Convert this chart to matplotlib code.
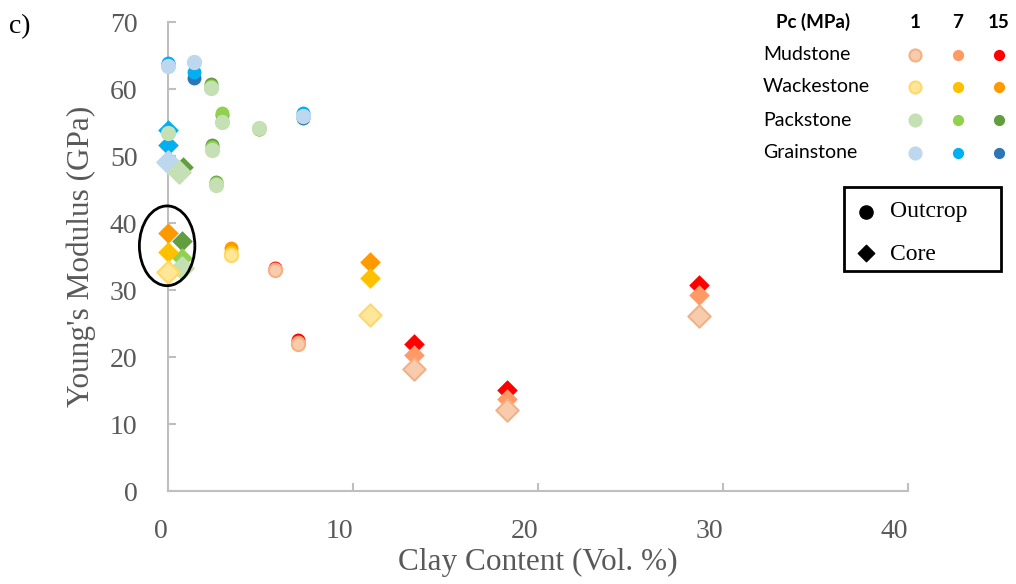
import numpy as np
import matplotlib
matplotlib.use("Agg")
import matplotlib.pyplot as plt
from matplotlib.patches import Ellipse, Rectangle

nan = np.nan

# Pc levels (MPa) and lithology colours, one per Pc level
pc_levels = ["1", "7", "15"]
lithologies = ["Mudstone", "Wackestone", "Packstone", "Grainstone"]
colors = {
    "Mudstone": ["#F8CBAD", "#FF9966", "#FF0000"],
    "Wackestone": ["#FFE699", "#FFC000", "#FF9900"],
    "Packstone": ["#C5E0B4", "#92D050", "#629E40"],
    "Grainstone": ["#BDD7EE", "#00B0F0", "#2E75B6"],
}
edges_pc1 = {
    "Mudstone": "#F4B183",
    "Wackestone": "#FFD966",
    "Packstone": "#C5E0B4",
    "Grainstone": "#BDD7EE",
}

# outcrop samples: clay content (vol. %) and Young's modulus (GPa) at Pc 1 / 7 / 15
mud_out_clay = [5.8, 7.0]
mud_out_e1 = [33.0, 22.0]
mud_out_e7 = [33.2, 22.3]
mud_out_e15 = [33.3, 22.6]

wack_out_clay = [3.4]
wack_out_e1 = [35.2]
wack_out_e7 = [35.7]
wack_out_e15 = [36.2]

pack_out_clay = [2.3, 2.9, 4.9, 2.4, 2.6, 0.0]
pack_out_e1 = [60.2, 55.1, 54.2, 50.9, 45.7, 53.4]
pack_out_e7 = [60.5, 56.4, 54.1, 51.4, 45.9, nan]
pack_out_e15 = [60.8, 56.1, 54.0, 51.6, 46.1, nan]

grain_out_clay = [0.0, 1.4, 7.3]
grain_out_e1 = [63.5, 64.0, 56.0]
grain_out_e7 = [63.9, 62.6, 56.4]
grain_out_e15 = [63.7, 61.7, 55.6]

# core samples
mud_core_clay = [13.3, 18.3, 28.7]
mud_core_e1 = [18.2, 12.1, 26.1]
mud_core_e7 = [20.3, 13.7, 29.3]
mud_core_e15 = [21.9, 15.1, 30.7]

wack_core_clay = [0.0, 10.9]
wack_core_e1 = [32.7, 26.3]
wack_core_e7 = [35.7, 31.8]
wack_core_e15 = [38.5, 34.2]

pack_core_clay = [0.75, 0.6, 0.8]
pack_core_e1 = [33.3, 47.6, nan]
pack_core_e7 = [34.8, nan, nan]
pack_core_e15 = [37.3, nan, 48.3]

grain_core_clay = [0.0, 0.0]
grain_core_e1 = [49.1, nan]
grain_core_e7 = [51.6, 53.9]
grain_core_e15 = [nan, nan]

outcrop = {
    "Grainstone": (grain_out_clay, [grain_out_e1, grain_out_e7, grain_out_e15]),
    "Packstone": (pack_out_clay, [pack_out_e1, pack_out_e7, pack_out_e15]),
    "Wackestone": (wack_out_clay, [wack_out_e1, wack_out_e7, wack_out_e15]),
    "Mudstone": (mud_out_clay, [mud_out_e1, mud_out_e7, mud_out_e15]),
}
core = {
    "Grainstone": (grain_core_clay, [grain_core_e1, grain_core_e7, grain_core_e15]),
    "Packstone": (pack_core_clay, [pack_core_e1, pack_core_e7, pack_core_e15]),
    "Wackestone": (wack_core_clay, [wack_core_e1, wack_core_e7, wack_core_e15]),
    "Mudstone": (mud_core_clay, [mud_core_e1, mud_core_e7, mud_core_e15]),
}

x_ticks = [0, 10, 20, 30, 40]
y_ticks = [0, 10, 20, 30, 40, 50, 60, 70]

serif = "Liberation Serif"
sans = "Lato"
grey = "#595959"

fig = plt.figure(figsize=(10.16, 5.84), dpi=100)
ax = fig.add_axes([0.1654, 0.1592, 0.7283, 0.8031])


def draw_group(groups, marker, size, size1, z0):
    for gi, (lith, (clay, vals)) in enumerate(groups.items()):
        # high Pc first so the low Pc marks sit on top
        for k in [2, 1, 0]:
            face = colors[lith][k]
            edge = edges_pc1[lith] if k == 0 else face
            ax.scatter(clay, vals[k], s=size1 if k == 0 else size,
                       marker=marker, c=face, edgecolors=edge,
                       linewidths=1.5 if k == 0 else 0,
                       zorder=z0 + gi * 3 + (2 - k), clip_on=False)


draw_group(outcrop, "o", 100, 90, 3)
draw_group(core, "D", 110, 130, 3)

# ring round the near-zero clay core samples
ax.add_patch(Ellipse((-0.05, 36.6), 3.0, 11.9, fill=False, ec="black",
                     lw=2, zorder=30, clip_on=False))

ax.set_xlim(0, 40)
ax.set_ylim(0, 70)
ax.set_xticks(x_ticks)
ax.set_yticks(y_ticks)
ax.set_xticklabels([str(t) for t in x_ticks], fontfamily=serif, fontsize=20,
                   color=grey, ha="right")
ax.set_yticklabels([str(t) for t in y_ticks], fontfamily=serif, fontsize=20,
                   color=grey)
ax.tick_params(axis="x", direction="in", length=6, width=1.5, color="#BFBFBF",
               pad=20)
ax.tick_params(axis="y", direction="in", length=6, width=1.5, color="#BFBFBF",
               pad=22)
for side in ["top", "right"]:
    ax.spines[side].set_visible(False)
for side in ["left", "bottom"]:
    ax.spines[side].set_color("#BFBFBF")
    ax.spines[side].set_linewidth(1.5)

ax.set_xlabel("Clay Content (Vol. %)", fontfamily=serif, fontsize=22.5,
              color=grey, labelpad=3)
ax.set_ylabel("Young's Modulus (GPa)", fontfamily=serif, fontsize=22.5,
              color=grey, labelpad=10)

# overlay in pixel units for the panel letter and the two keys
ov = fig.add_axes([0, 0, 1, 1], facecolor="none")
ov.set_xlim(0, 1016)
ov.set_ylim(584, 0)
ov.axis("off")

ov.text(9, 27, "c)", fontfamily=serif, fontsize=20, va="center", ha="left")

# Pc key
col_x = [915, 958, 999]
row_y = [55, 87, 120, 153]
ov.text(813, 22, "Pc (MPa)", fontfamily=sans, fontsize=13.5, fontweight="bold",
        ha="center", va="center")
for cx, lab in zip(col_x, pc_levels):
    ov.text(cx, 22, lab, fontfamily=sans, fontsize=13.5, fontweight="bold",
            ha="center", va="center")
for ry, lith in zip(row_y, lithologies):
    ov.text(763, ry, lith, fontfamily=sans, fontsize=14, ha="left",
            va="center")
    for k, cx in enumerate(col_x):
        edge = edges_pc1[lith] if k == 0 else colors[lith][k]
        ov.scatter([cx], [ry], s=75 if k == 0 else 65, c=colors[lith][k],
                   edgecolors=edge, linewidths=1.5 if k == 0 else 0)

# sample type key
ov.add_patch(Rectangle((844, 187), 157, 84, fill=False, ec="black", lw=2))
ov.scatter([866], [212], s=90, marker="o", c="black")
ov.scatter([866], [253], s=70, marker="D", c="black")
ov.text(890, 212, "Outcrop", fontfamily=serif, fontsize=17, va="center")
ov.text(890, 255, "Core", fontfamily=serif, fontsize=17, va="center")

fig.savefig("out.png", dpi=100)
